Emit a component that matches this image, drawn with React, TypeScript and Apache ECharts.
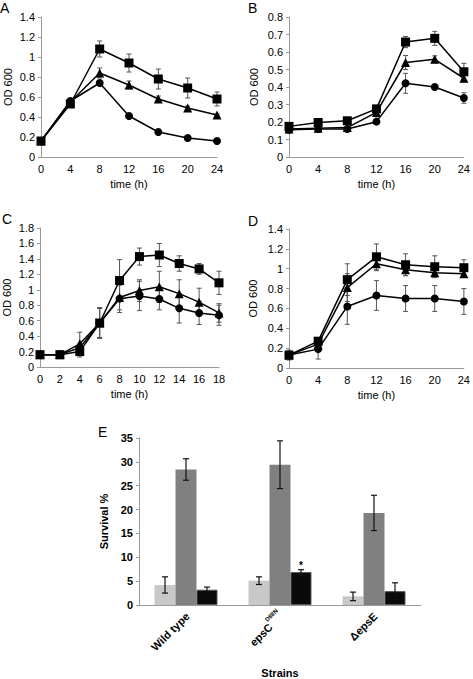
import React, { useEffect, useRef } from "react";
import * as echarts from "echarts";

// ---------- Panel A ----------
const aHours = [0, 4, 8, 12, 16, 20, 24];
const aSquare = [0.16, 0.53, 1.08, 0.94, 0.78, 0.69, 0.58];
const aSquareErr = [0.01, 0.02, 0.08, 0.09, 0.1, 0.1, 0.07];
const aTriangle = [0.16, 0.55, 0.84, 0.72, 0.58, 0.49, 0.42];
const aTriangleErr = [0.01, 0.02, 0.05, 0.04, 0.03, 0.02, 0.01];
const aCircle = [0.16, 0.56, 0.74, 0.41, 0.25, 0.19, 0.16];
const aCircleErr = [0.01, 0.01, 0.01, 0.01, 0.01, 0.01, 0.01];

// ---------- Panel B ----------
const bHours = [0, 4, 8, 12, 16, 20, 24];
const bSquare = [0.175, 0.197, 0.207, 0.275, 0.657, 0.678, 0.487];
const bSquareErr = [0.005, 0.005, 0.005, 0.01, 0.032, 0.04, 0.048];
const bTriangle = [0.16, 0.165, 0.168, 0.255, 0.54, 0.558, 0.45];
const bTriangleErr = [0.005, 0.005, 0.005, 0.01, 0.04, 0.02, 0.02];
const bCircle = [0.155, 0.16, 0.16, 0.202, 0.421, 0.4, 0.337];
const bCircleErr = [0.005, 0.005, 0.005, 0.005, 0.057, 0.005, 0.03];

// ---------- Panel C ----------
const cHours = [0, 2, 4, 6, 8, 10, 12, 14, 16, 18];
const cSquare = [0.16, 0.16, 0.2, 0.57, 1.12, 1.43, 1.45, 1.34, 1.27, 1.09];
const cSquareErr = [0.01, 0.01, 0.07, 0.19, 0.27, 0.11, 0.15, 0.1, 0.07, 0.15];
const cTriangle = [0.16, 0.16, 0.3, 0.57, 0.9, 0.99, 1.04, 0.95, 0.84, 0.7];
const cTriangleErr = [0.01, 0.01, 0.15, 0.19, 0.16, 0.14, 0.2, 0.18, 0.18, 0.12];
const cCircle = [0.16, 0.16, 0.25, 0.57, 0.885, 0.92, 0.88, 0.76, 0.7, 0.67];
const cCircleErr = [0.01, 0.01, 0.05, 0.2, 0.18, 0.19, 0.14, 0.19, 0.15, 0.13];

// ---------- Panel D ----------
const dHours = [0, 4, 8, 12, 16, 20, 24];
const dSquare = [0.13, 0.27, 0.89, 1.12, 1.04, 1.02, 1.01];
const dSquareErr = [0.02, 0.02, 0.16, 0.13, 0.11, 0.11, 0.08];
const dTriangle = [0.13, 0.24, 0.81, 1.05, 0.99, 0.96, 0.95];
const dTriangleErr = [0.02, 0.02, 0.14, 0.07, 0.06, 0.03, 0.02];
const dCircle = [0.13, 0.19, 0.62, 0.73, 0.7, 0.7, 0.67];
const dCircleErr = [0.05, 0.1, 0.18, 0.15, 0.13, 0.13, 0.13];

// ---------- Panel E ----------
const strains = ["Wild type", "epsC^D88N", "ΔepsE"];
const eLight = [4.2, 5.1, 1.8];
const eLightErr = [1.7, 0.8, 0.9];
const eGray = [28.4, 29.4, 19.3];
const eGrayErr = [2.25, 5.0, 3.7];
const eBlack = [3.2, 6.9, 2.9];
const eBlackErr = [0.55, 0.5, 1.75];
const eSignificant = [false, true, false];

const FONT = "Liberation Sans, Arial, sans-serif";
const AXIS_GRAY = "#9a9a9a";
const FS = 11;

function valueAxisX(gridIndex: number, max: number, interval: number) {
  return {
    type: "value",
    gridIndex,
    min: 0,
    max,
    interval,
    name: "time (h)",
    nameLocation: "middle",
    nameGap: 21,
    nameTextStyle: { fontSize: FS, color: "#000", fontFamily: FONT },
    axisLine: { show: true, lineStyle: { color: AXIS_GRAY, width: 1 } },
    axisTick: { show: false },
    splitLine: { show: false },
    axisLabel: { fontSize: FS, color: "#000", fontFamily: FONT, margin: 6 },
  };
}

function valueAxisY(gridIndex: number, max: number, interval: number, nameGap: number) {
  return {
    type: "value",
    gridIndex,
    min: 0,
    max,
    interval,
    name: "OD 600",
    nameLocation: "middle",
    nameGap,
    nameTextStyle: { fontSize: FS, color: "#000", fontFamily: FONT },
    axisLine: { show: true, lineStyle: { color: AXIS_GRAY, width: 1 } },
    axisTick: { show: true, length: 3, lineStyle: { color: AXIS_GRAY } },
    splitLine: { show: false },
    axisLabel: { fontSize: FS, color: "#000", fontFamily: FONT, margin: 6 },
  };
}

function lineSeries(idx: number, xs: number[], ys: number[], symbol: string, size: number) {
  return {
    type: "line",
    xAxisIndex: idx,
    yAxisIndex: idx,
    data: xs.map((x, i) => [x, ys[i]]),
    symbol,
    symbolSize: size,
    showAllSymbol: true,
    lineStyle: { color: "#000", width: 1.5 },
    itemStyle: { color: "#000" },
    z: 3,
  };
}

function errSeries(idx: number, xs: number[], ys: number[], errs: number[]) {
  return {
    type: "custom",
    xAxisIndex: idx,
    yAxisIndex: idx,
    data: xs.map((x, i) => [x, ys[i] - errs[i], ys[i] + errs[i]]),
    encode: { x: 0, y: [1, 2] },
    z: 2,
    renderItem: (params: any, api: any) => {
      const x = api.value(0);
      const lo = api.coord([x, api.value(1)]);
      const hi = api.coord([x, api.value(2)]);
      const w = 2.5;
      const st = { stroke: "#555", lineWidth: 1 };
      return {
        type: "group",
        children: [
          { type: "line", shape: { x1: lo[0], y1: lo[1], x2: hi[0], y2: hi[1] }, style: st },
          { type: "line", shape: { x1: lo[0] - w, y1: lo[1], x2: lo[0] + w, y2: lo[1] }, style: st },
          { type: "line", shape: { x1: hi[0] - w, y1: hi[1], x2: hi[0] + w, y2: hi[1] }, style: st },
        ],
      };
    },
  };
}

const BAR_GAP_RATIO = 0.33;

function barErrSeries(pos: number, ys: number[], errs: number[]) {
  return {
    type: "custom",
    xAxisIndex: 4,
    yAxisIndex: 4,
    data: ys.map((y, i) => [i, y - errs[i], y + errs[i]]),
    encode: { x: 0, y: [1, 2] },
    z: 5,
    renderItem: (params: any, api: any) => {
      const c = api.value(0);
      const band = api.size([1, 0])[0];
      const bw = (band * (1 - BAR_GAP_RATIO)) / 3;
      const lo = api.coord([c, api.value(1)]);
      const hi = api.coord([c, api.value(2)]);
      const x = lo[0] + (pos - 1) * bw;
      const w = 3;
      const st = { stroke: "#111", lineWidth: 1.2 };
      return {
        type: "group",
        children: [
          { type: "line", shape: { x1: x, y1: lo[1], x2: x, y2: hi[1] }, style: st },
          { type: "line", shape: { x1: x - w, y1: lo[1], x2: x + w, y2: lo[1] }, style: st },
          { type: "line", shape: { x1: x - w, y1: hi[1], x2: x + w, y2: hi[1] }, style: st },
        ],
      };
    },
  };
}

function panelLetter(text: string, x: number, y: number) {
  return {
    type: "text",
    x,
    y,
    style: { text, font: `14px ${FONT}`, fill: "#000" },
  };
}

export default function App() {
  const ref = useRef<HTMLDivElement>(null);
  useEffect(() => {
    if (!ref.current) return;
    const chart = echarts.init(ref.current, null, { renderer: "svg" });
    const option: any = {
      animation: false,
      backgroundColor: "#fff",
      textStyle: { fontFamily: FONT },
      grid: [
        { left: 41, top: 17, width: 176, height: 140 },
        { left: 289, top: 17, width: 177, height: 140 },
        { left: 40, top: 228, width: 179, height: 139 },
        { left: 289, top: 229, width: 177, height: 139 },
        { left: 139, top: 438, width: 282, height: 170 },
      ],
      xAxis: [
        valueAxisX(0, 24, 4),
        valueAxisX(1, 24, 4),
        valueAxisX(2, 18, 2),
        valueAxisX(3, 24, 4),
        {
          type: "category",
          gridIndex: 4,
          data: strains,
          name: "Strains",
          nameLocation: "middle",
          nameGap: 62,
          nameTextStyle: { fontSize: FS, fontWeight: "bold", color: "#000", fontFamily: FONT },
          axisLine: { show: true, lineStyle: { color: AXIS_GRAY, width: 1 } },
          axisTick: { show: false },
          axisLabel: {
            rotate: 45,
            interval: 0,
            margin: 8,
            fontSize: FS,
            fontWeight: "bold",
            color: "#000",
            fontFamily: FONT,
            formatter: (v: string) => {
              const parts = v.split("^");
              if (parts.length === 2) return `{n|${parts[0]}}{s|${parts[1]}}`;
              return `{n|${v}}`;
            },
            rich: {
              n: { fontSize: FS, fontWeight: "bold", color: "#000", fontFamily: FONT, verticalAlign: "bottom", lineHeight: 15 },
              s: { fontSize: 6, fontWeight: "bold", color: "#000", fontFamily: FONT, verticalAlign: "top", lineHeight: 15 },
            },
          },
        },
      ],
      yAxis: [
        valueAxisY(0, 1.4, 0.2, 28),
        valueAxisY(1, 0.8, 0.1, 30),
        valueAxisY(2, 1.8, 0.2, 28),
        valueAxisY(3, 1.4, 0.2, 31),
        {
          type: "value",
          gridIndex: 4,
          min: 0,
          max: 35,
          interval: 5,
          name: "Survival %",
          nameLocation: "middle",
          nameGap: 28,
          nameTextStyle: { fontSize: FS, fontWeight: "bold", color: "#000", fontFamily: FONT },
          axisLine: { show: true, lineStyle: { color: AXIS_GRAY, width: 1 } },
          axisTick: { show: true, length: 3, lineStyle: { color: AXIS_GRAY } },
          splitLine: { show: false },
          axisLabel: { fontSize: FS, fontWeight: "bold", color: "#000", fontFamily: FONT, margin: 6 },
        },
      ],
      series: [
        errSeries(0, aHours, aSquare, aSquareErr),
        errSeries(0, aHours, aTriangle, aTriangleErr),
        errSeries(0, aHours, aCircle, aCircleErr),
        lineSeries(0, aHours, aSquare, "rect", 9),
        lineSeries(0, aHours, aTriangle, "triangle", 9),
        lineSeries(0, aHours, aCircle, "circle", 8),

        errSeries(1, bHours, bSquare, bSquareErr),
        errSeries(1, bHours, bTriangle, bTriangleErr),
        errSeries(1, bHours, bCircle, bCircleErr),
        lineSeries(1, bHours, bSquare, "rect", 9),
        lineSeries(1, bHours, bTriangle, "triangle", 9),
        lineSeries(1, bHours, bCircle, "circle", 8),

        errSeries(2, cHours, cSquare, cSquareErr),
        errSeries(2, cHours, cTriangle, cTriangleErr),
        errSeries(2, cHours, cCircle, cCircleErr),
        lineSeries(2, cHours, cSquare, "rect", 9),
        lineSeries(2, cHours, cTriangle, "triangle", 9),
        lineSeries(2, cHours, cCircle, "circle", 8),

        errSeries(3, dHours, dSquare, dSquareErr),
        errSeries(3, dHours, dTriangle, dTriangleErr),
        errSeries(3, dHours, dCircle, dCircleErr),
        lineSeries(3, dHours, dSquare, "rect", 9),
        lineSeries(3, dHours, dTriangle, "triangle", 9),
        lineSeries(3, dHours, dCircle, "circle", 8),

        {
          type: "bar",
          xAxisIndex: 4,
          yAxisIndex: 4,
          data: eLight,
          barGap: "0%",
          barCategoryGap: `${BAR_GAP_RATIO * 100}%`,
          itemStyle: { color: "#c8c8c8" },
        },
        {
          type: "bar",
          xAxisIndex: 4,
          yAxisIndex: 4,
          data: eGray,
          barGap: "0%",
          barCategoryGap: `${BAR_GAP_RATIO * 100}%`,
          itemStyle: { color: "#808080" },
        },
        {
          type: "bar",
          xAxisIndex: 4,
          yAxisIndex: 4,
          data: eBlack.map((v, i) =>
            eSignificant[i]
              ? {
                  value: v,
                  label: {
                    show: true,
                    position: "top",
                    distance: 2,
                    formatter: "*",
                    fontSize: 10,
                    fontWeight: "bold",
                    color: "#000",
                    fontFamily: FONT,
                  },
                }
              : v
          ),
          barGap: "0%",
          barCategoryGap: `${BAR_GAP_RATIO * 100}%`,
          itemStyle: { color: "#0a0a0a", borderColor: "#555", borderWidth: 1 },
        },
        barErrSeries(0, eLight, eLightErr),
        barErrSeries(1, eGray, eGrayErr),
        barErrSeries(2, eBlack, eBlackErr),
      ],
      graphic: [
        panelLetter("A", 0, 1),
        panelLetter("B", 248, 1),
        panelLetter("C", 2, 212),
        panelLetter("D", 248, 214),
        panelLetter("E", 98, 425),
      ],
    };
    chart.setOption(option);
    return () => chart.dispose();
  }, []);
  return (
    <div
      ref={ref}
      style={{ position: "fixed", left: 0, top: 0, width: 473, height: 679, background: "#fff" }}
    />
  );
}
